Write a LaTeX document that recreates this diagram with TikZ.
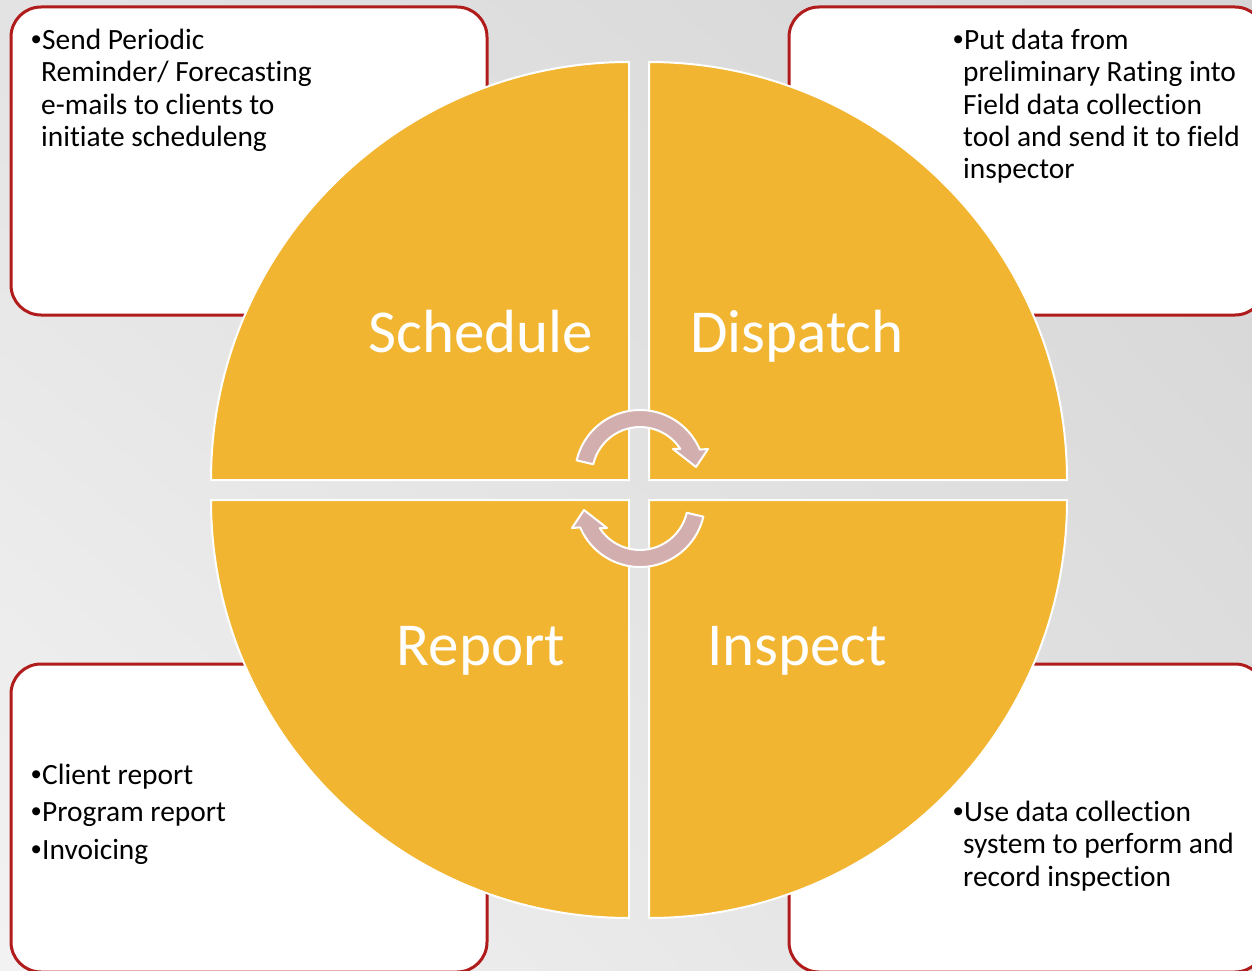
\documentclass[tikz,border=0pt]{standalone}
\usepackage{fontspec}
\setmainfont[Ligatures=NoCommon]{Carlito}
\newfontfamily\bulfont{Liberation Sans}
\usepackage{tikz}
\usetikzlibrary{shadings}
\definecolor{quadFill}{HTML}{F2B532}
\definecolor{boxRed}{HTML}{B01C1C}
\definecolor{turnPink}{HTML}{D3AEAE}
\tikzstyle{box} = [rectangle, rounded corners=30pt, minimum width=476pt, minimum height=308pt, draw=boxRed, line width=3pt, fill=white]
\tikzstyle{note} = [anchor=north west, inner sep=0pt, align=left, font=\fontsize{29.4}{32.3}\selectfont]
\tikzstyle{quad} = [fill=quadFill, draw=white, line width=2pt]
\tikzstyle{phase} = [anchor=base, inner sep=0pt, text=white, font=\fontsize{61}{72}\selectfont]
\tikzstyle{turn} = [fill=turnPink, draw=white, line width=2pt, line join=round]
\newcommand{\bul}{\makebox[11pt][l]{\bulfont •}}
\newcommand{\ind}{\hspace*{10pt}}

\begin{document}
\begin{tikzpicture}[x=1pt, y=-1pt]

        % Background
        \useasboundingbox (0,0) rectangle (1252,971);
        \shade[upper left=gray!22, upper right=gray!33, lower left=gray!10, lower right=gray!24] (0,0) rectangle (1252,971);

        % Boxes
        \node (scheduleBox) [box] at (249,161) {};
        \node (dispatchBox) [box] at (1027,161) {};
        \node (reportBox) [box] at (249,818) {};
        \node (inspectBox) [box] at (1027,818) {};

        % Box texts
        \node (scheduleText) [note] at (31,29) {\bul Send Periodic\\ \ind Reminder/ Forecasting\\ \ind e-mails to clients to\\ \ind initiate scheduleng};
        \node (dispatchText) [note] at (953,29) {\bul Put data from\\ \ind preliminary Rating into\\ \ind Field data collection\\ \ind tool and send it to field\\ \ind inspector};
        \node (reportText) [note] at (31,764) {\bul Client report\\[5pt] \bul Program report\\[5pt] \bul Invoicing};
        \node (inspectText) [note] at (953,801) {\bul Use data collection\\ \ind system to perform and\\ \ind record inspection};

        % Quadrants
        \draw [quad] (629,480) -- (211,480) arc[start angle=180, end angle=270, radius=418] -- cycle;
        \draw [quad] (649,480) -- (649,62) arc[start angle=270, end angle=360, radius=418] -- cycle;
        \draw [quad] (629,500) -- (629,918) arc[start angle=90, end angle=180, radius=418] -- cycle;
        \draw [quad] (649,500) -- (1067,500) arc[start angle=0, end angle=90, radius=418] -- cycle;

        % Phase labels
        \node (schedule) [phase] at (481,352) {Schedule};
        \node (dispatch) [phase] at (797,352) {Dispatch};
        \node (report) [phase] at (481,665) {Report};
        \node (inspect) [phase] at (797,665) {Inspect};

        % Turning arrows
        \draw [turn] (640,475) ++(193:65) arc[start angle=193, end angle=337, radius=65] -- (708,449) -- (696,467) -- (673,449) -- (680.3,448.9) arc[start angle=327, end angle=193, radius=48] -- cycle;
        \draw [turn, rotate around={180:(640,488.5)}] (640,475) ++(193:65) arc[start angle=193, end angle=337, radius=65] -- (708,449) -- (696,467) -- (673,449) -- (680.3,448.9) arc[start angle=327, end angle=193, radius=48] -- cycle;

\end{tikzpicture}
\end{document}
